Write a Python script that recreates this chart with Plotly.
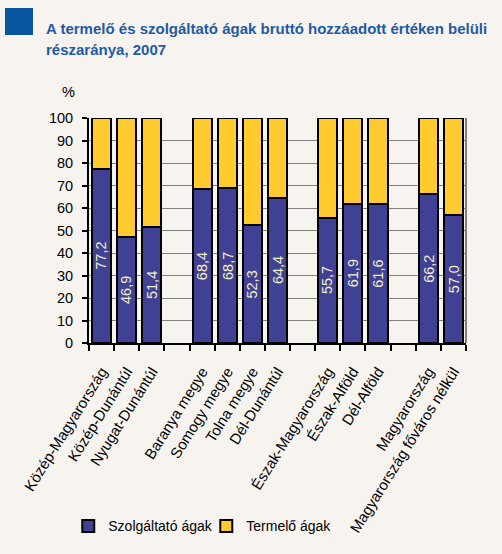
import plotly.graph_objects as go

categories = ["Közép-Magyarország", "Közép-Dunántúl", "Nyugat-Dunántúl", " ",
              "Baranya megye", "Somogy megye", "Tolna megye", "Dél-Dunántúl", "  ",
              "Észak-Magyarország", "Észak-Alföld", "Dél-Alföld", "   ",
              "Magyarország", "Magyarország főváros nélkül"]
szolgaltato = [77.2, 46.9, 51.4, None, 68.4, 68.7, 52.3, 64.4, None, 55.7, 61.9, 61.6, None, 66.2, 57.0]
termelo = [22.8, 53.1, 48.6, None, 31.6, 31.3, 47.7, 35.6, None, 44.3, 38.1, 38.4, None, 33.8, 43.0]
y_ticks = list(range(0, 101, 10))
title_lines = ["A termelő és szolgáltató ágak bruttó hozzáadott értéken belüli",
               "részaránya, 2007"]

BG = "#f7f4f0"
BLUE = "#404094"
YELLOW = "#ffcb2f"
FONT = "Liberation Sans, Arial, sans-serif"

fig = go.Figure()
fig.add_trace(go.Bar(
    x=categories, y=szolgaltato, name="Szolgáltató ágak",
    marker=dict(color=BLUE, line=dict(color="black", width=2)),
    width=0.76, hoverinfo="skip"))
fig.add_trace(go.Bar(
    x=categories, y=termelo, name="Termelő ágak",
    marker=dict(color=YELLOW, line=dict(color="black", width=2)),
    width=0.76, hoverinfo="skip"))

annotations = []
for c, v in zip(categories, szolgaltato):
    if v is None:
        continue
    annotations.append(dict(x=c, y=v / 2, xref="x", yref="y", text=f"{v:.1f}".replace(".", ","),
                            textangle=-90, showarrow=False, xanchor="center", yanchor="middle",
                            font=dict(color="#f2eec4", size=14.5, family=FONT)))
annotations.append(dict(text="%", x=(68 - 89) / 377, y=(343 - 92) / 225, xref="paper", yref="paper",
                        xanchor="center", yanchor="middle",
                        showarrow=False, font=dict(size=14.5)))
for i, line in enumerate(title_lines):
    annotations.append(dict(
        text=f"<b>{line}</b>",
        x=(44 - 89) / 377, y=(343 - (29 + 20 * i)) / 225, xref="paper", yref="paper",
        showarrow=False, align="left", xanchor="left", yanchor="middle",
        font=dict(size=15, color="#1f5aa6", family=FONT)))

fig.update_layout(
    barmode="stack",
    width=502, height=554,
    paper_bgcolor=BG, plot_bgcolor=BG,
    margin=dict(l=89, r=36, t=118, b=211),
    font=dict(family=FONT, size=14.5, color="black"),
    showlegend=True,
    legend=dict(orientation="h", x=-0.055, xanchor="left", y=-0.815, yanchor="middle",
                font=dict(size=14), bgcolor="rgba(0,0,0,0)", traceorder="normal",
                entrywidth=93, entrywidthmode="pixels", itemwidth=30),
    xaxis=dict(type="category", tickangle=-58, ticks="outside", tickson="boundaries",
               ticklen=6, tickwidth=2, tickcolor="black", showline=True, linecolor="black",
               linewidth=2, showgrid=False, tickfont=dict(size=15), ticklabelstandoff=12),
    yaxis=dict(range=[0, 100], tickvals=y_ticks, showgrid=True, gridcolor="#808080",
               gridwidth=1, showline=True, linecolor="black", linewidth=2, ticks="outside",
               ticklen=5, tickwidth=2, tickcolor="black", zeroline=False,
               ticklabelstandoff=6, tickfont=dict(size=14.5)),
    annotations=annotations,
    shapes=[
        dict(type="rect", xref="paper", yref="paper", x0=-84/377, x1=-56/377,
             y0=(343-8)/225, y1=(343-35)/225, fillcolor="#0a55a0", line=dict(width=0)),
        dict(type="line", xref="paper", yref="paper", x0=1, x1=1, y0=0, y1=1,
             line=dict(color="#808080", width=2)),
    ],
)

fig.write_html("out.html", config={"displayModeBar": False},
               post_script="document.body.style.margin='0';")
